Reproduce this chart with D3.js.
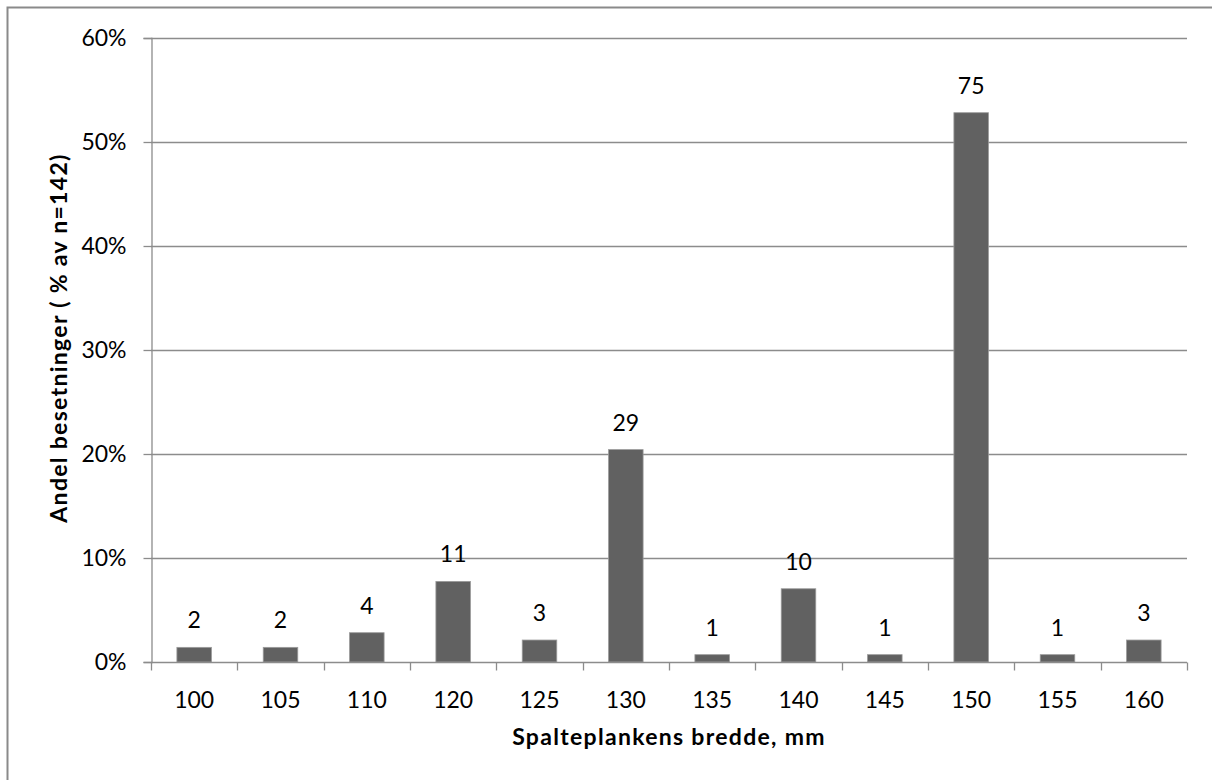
<!DOCTYPE html>
<html>
<head>
<meta charset="utf-8">
<script src="https://cdn.jsdelivr.net/npm/d3@7"></script>
<style>
  html, body { margin: 0; padding: 0; background: #fff; }
  svg { display: block; }
  text { font-family: Lato, "Open Sans", "DejaVu Sans", sans-serif; fill: #000; }
</style>
</head>
<body>
<svg id="chart" width="1212" height="780"></svg>
<script>
// Plank widths (mm) and number of herds for each width
const widths = ["100", "105", "110", "120", "125", "130", "135", "140", "145", "150", "155", "160"];
const counts = [2, 2, 4, 11, 3, 29, 1, 10, 1, 75, 1, 3];
const total = 142;
const yTicks = [0, 0.1, 0.2, 0.3, 0.4, 0.5, 0.6];

const xTitle = "Spalteplankens bredde, mm";
const yTitle = "Andel besetninger ( % av n=142)";

const svg = d3.select("#chart");
const margin = { left: 151, right: 1187, top: 38, bottom: 662 };
const labelSize = 23;

// outer chart frame
svg.append("rect")
  .attr("x", 7.5).attr("y", 7.5)
  .attr("width", 1220).attr("height", 800)
  .attr("fill", "none").attr("stroke", "#8a8a8a").attr("stroke-width", 2);

const x = d3.scaleBand().domain(widths)
  .range([margin.left, margin.right]).paddingInner(0.6).paddingOuter(0.3);
const xCat = d3.scaleBand().domain(widths).range([margin.left, margin.right]);
const y = d3.scaleLinear().domain([0, 0.6]).range([margin.bottom, margin.top]);

// horizontal gridlines
svg.append("g").selectAll("line").data(yTicks.slice(1)).join("line")
  .attr("x1", margin.left).attr("x2", margin.right)
  .attr("y1", d => Math.round(y(d)) + 0.5).attr("y2", d => Math.round(y(d)) + 0.5)
  .attr("stroke", "#8c8c8c").attr("stroke-width", 1.3);

// y axis
const yAxis = svg.append("g")
  .attr("transform", `translate(${margin.left + 0.5},0)`)
  .call(d3.axisLeft(y).tickValues(yTicks).tickFormat(d3.format(".0%")).tickSize(8).tickPadding(17));
yAxis.select(".domain").attr("stroke", "#8c8c8c").attr("stroke-width", 1.3);
yAxis.selectAll(".tick line").attr("stroke", "#8c8c8c").attr("stroke-width", 1.3);
yAxis.selectAll(".tick text").attr("font-size", labelSize).attr("font-family", "Lato").attr("fill", "#000");

// bars
svg.append("g").selectAll("rect").data(widths).join("rect")
  .attr("x", d => x(d))
  .attr("width", x.bandwidth())
  .attr("y", (d, i) => y(counts[i] / total))
  .attr("height", (d, i) => y(0) - y(counts[i] / total))
  .attr("fill", "#616161")
  .attr("stroke", "#9a9a9a").attr("stroke-width", 0.8);

// x axis with tick marks at category boundaries
const xAxisG = svg.append("g").attr("transform", `translate(0,${margin.bottom + 0.5})`);
xAxisG.append("line")
  .attr("x1", margin.left).attr("x2", margin.right)
  .attr("stroke", "#8c8c8c").attr("stroke-width", 1.3);
const bounds = widths.map(d => xCat(d)).concat([margin.right]);
xAxisG.selectAll("line.tk").data(bounds).join("line").attr("class", "tk")
  .attr("x1", d => Math.round(d) + 0.5).attr("x2", d => Math.round(d) + 0.5)
  .attr("y1", 0).attr("y2", 8)
  .attr("stroke", "#8c8c8c").attr("stroke-width", 1.3);
xAxisG.selectAll("text").data(widths).join("text")
  .attr("x", d => xCat(d) + xCat.bandwidth() / 2)
  .attr("y", 45)
  .attr("text-anchor", "middle")
  .attr("font-size", labelSize)
  .text(d => d);

// value labels (herd counts)
svg.append("g").selectAll("text").data(widths).join("text")
  .attr("x", d => x(d) + x.bandwidth() / 2)
  .attr("y", (d, i) => y(counts[i] / total) - 19)
  .attr("text-anchor", "middle")
  .attr("font-size", labelSize)
  .text((d, i) => counts[i]);

// axis titles
svg.append("text")
  .attr("x", (margin.left + margin.right) / 2)
  .attr("y", 745)
  .attr("text-anchor", "middle")
  .attr("font-size", 23).attr("font-weight", "bold")
  .attr("letter-spacing", 1.3)
  .text(xTitle);

svg.append("text")
  .attr("transform", `translate(67,${(margin.top + margin.bottom) / 2 - 12}) rotate(-90)`)
  .attr("text-anchor", "middle")
  .attr("font-size", 23).attr("font-weight", "bold")
  .attr("letter-spacing", 1.3)
  .text(yTitle);
</script>
</body>
</html>
